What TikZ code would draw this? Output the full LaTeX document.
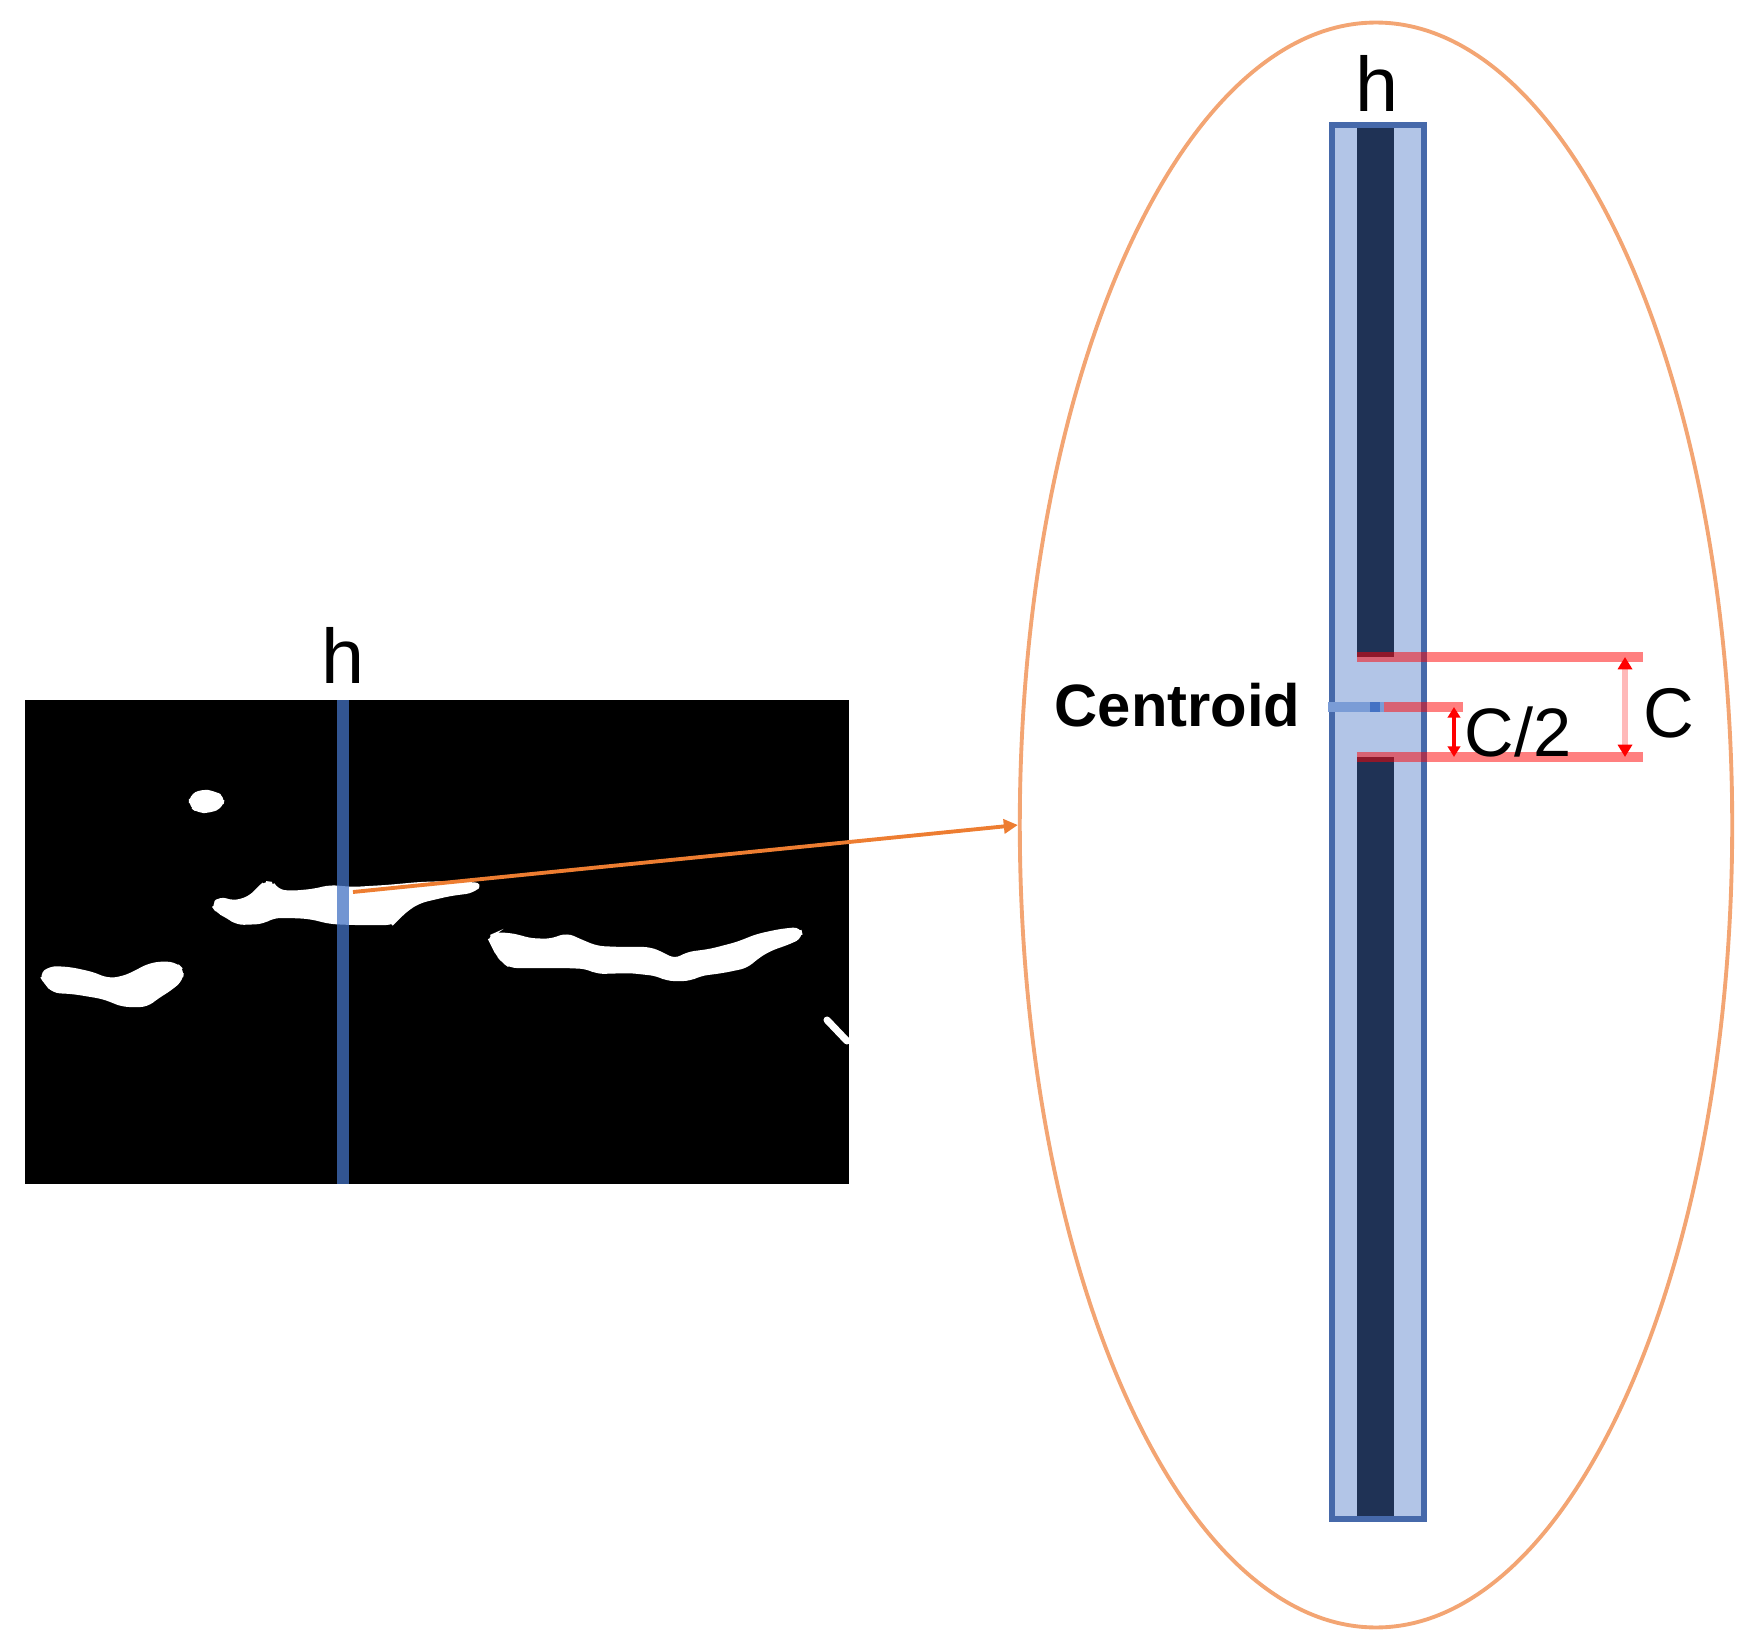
\documentclass[tikz,border=0pt]{standalone}
\usepackage{fontspec}
\setmainfont{Liberation Sans}
\usetikzlibrary{positioning,calc}
\usetikzlibrary{arrows.meta,shapes.geometric}
\definecolor{ScanBlue}{RGB}{68,114,196}
\definecolor{ColFill}{RGB}{178,197,231}
\definecolor{ColDark}{RGB}{31,50,85}
\definecolor{ColEdge}{RGB}{70,105,170}
\definecolor{MarkBlue}{RGB}{122,156,214}
\definecolor{ZoomOrange}{RGB}{237,125,49}
\definecolor{LensOrange}{RGB}{243,165,115}
\definecolor{MarkRed}{RGB}{255,0,0}
\definecolor{SpanPink}{RGB}{255,185,185}
\tikzset{
  blob/.style={fill=white,draw=white,line width=0.6pt,rounded corners=2pt},
  scan/.style={draw=ScanBlue,draw opacity=0.75,line width=3.4pt},
  lens/.style={draw=LensOrange,line width=1.1pt,ellipse,inner sep=0pt,
    minimum width=7.12cm,minimum height=16.04cm},
  zoomarrow/.style={draw=ZoomOrange,line width=1.1pt,-{Triangle[length=4pt,width=4pt]}},
  level/.style={draw=MarkRed,draw opacity=0.5,line width=2.6pt},
  gap/.style={draw=MarkRed,line width=1.1pt,
    {Triangle[length=3pt,width=3.5pt]}-{Triangle[length=3pt,width=3.5pt]}},
  span/.style={draw=SpanPink,line width=1.6pt,
    {Triangle[length=3.5pt,width=4pt,color=MarkRed]}-{Triangle[length=3.5pt,width=4pt,color=MarkRed]}},
  lbl/.style={inner sep=0pt,font=\fontsize{22}{26}\selectfont},
  tag/.style={inner sep=0pt,font=\fontsize{19.5}{23}\selectfont},
}

\begin{document}
\begin{tikzpicture}[x=0.01cm,y=-0.01cm]
\useasboundingbox (0,0) rectangle (1763,1646);
\coordinate (img0) at (25,700);
\coordinate (img1) at (849,1184);
\coordinate (s0) at (343,700);
\coordinate (s1) at (343,1184);
\coordinate (src) at (353,892);
\coordinate (col0) at (1330,124);
\coordinate (col1) at (1426,1521);
\coordinate (m0) at (1328,707);
\coordinate (m1) at (1384,707);
\coordinate (m2) at (1463,707);
\coordinate (t0) at (1357,657);
\coordinate (t1) at (1643,657);
\coordinate (b0) at (1357,757);
\coordinate (b1) at (1643,757);
\coordinate (h0) at (1454,707);
\coordinate (h1) at (1454,757);
\coordinate (c0) at (1625,657);
\coordinate (c1) at (1625,757);
\fill[black] (img0) rectangle (img1);
\filldraw[blob] (190,796) -- (202,790) -- (214,792) -- (224,797) -- (222,807) -- (210,812) -- (198,812) -- (190,806) -- cycle;
\filldraw[blob] (212,905) -- (220,897) -- (233,902) -- (250,897) -- (258,888) -- (265,882) -- (273,883) -- (277,890) -- (290,892) -- (313,890) -- (330,886) -- (353,888) -- (387,886) -- (420,883) -- (453,882) -- (482,884) -- (473,892) -- (450,895) -- (420,902) -- (407,910) -- (397,920) -- (393,924) -- (353,924) -- (330,923) -- (310,918) -- (293,917) -- (273,917) -- (263,923) -- (237,924) -- (227,917) -- (217,912) -- cycle;
\filldraw[blob] (40,975) -- (50,967) -- (70,968) -- (93,973) -- (107,979) -- (120,978) -- (133,973) -- (147,965) -- (163,962) -- (177,964) -- (183,970) -- (182,980) -- (170,990) -- (157,998) -- (147,1006) -- (123,1006) -- (103,998) -- (73,993) -- (53,992) -- (45,983) -- cycle;
\filldraw[blob] (488,937) -- (497,933) -- (517,935) -- (528,939) -- (550,940) -- (567,934) -- (580,940) -- (597,947) -- (620,948) -- (650,948) -- (662,953) -- (675,960) -- (687,953) -- (710,950) -- (737,943) -- (757,935) -- (780,930) -- (800,928) -- (802,937) -- (790,943) -- (770,950) -- (757,958) -- (747,967) -- (723,972) -- (700,975) -- (690,980) -- (667,980) -- (657,975) -- (630,972) -- (597,973) -- (587,968) -- (567,967) -- (533,967) -- (510,967) -- (503,962) -- (497,955) -- (492,945) -- cycle;
\draw[white,line width=2pt,line cap=round] (827,1020) -- (847,1041);
\draw[scan] (s0) -- (s1);
\node[lens] (lens) at (1376,825) {};
\draw[zoomarrow] (src) -- (lens.west);
\fill[ColFill] (col0) rectangle (col1);
\fill[ColDark] (1357,127) rectangle (1394,657);
\fill[ColDark] (1357,757) rectangle (1394,1518);
\draw[ColEdge,line width=1.5pt] (1332,125) rectangle (1424,1519);
\draw[MarkBlue,line width=2.8pt] (m0) -- (m1);
\fill[ScanBlue] (1370,702) rectangle (1380,712);
\draw[level] (t0) -- (t1);
\draw[level] (b0) -- (b1);
\draw[level] (m1) -- (m2);
\draw[gap] (h0) -- (h1);
\draw[span] (c0) -- (c1);
\node[lbl,anchor=base] (hl) at (343,683) {h};
\node[lbl,anchor=base] (hr) at (1377,112) {h};
\node[inner sep=0pt,anchor=base west,font=\fontsize{17}{20}\selectfont\bfseries] (cen) at (1054,726) {Centroid};
\node[tag,anchor=base west] (half) at (1464,757) {C/2};
\node[tag,anchor=base west,font=\fontsize{20}{24}\selectfont] (full) at (1643,737) {C};
\end{tikzpicture}
\end{document}
